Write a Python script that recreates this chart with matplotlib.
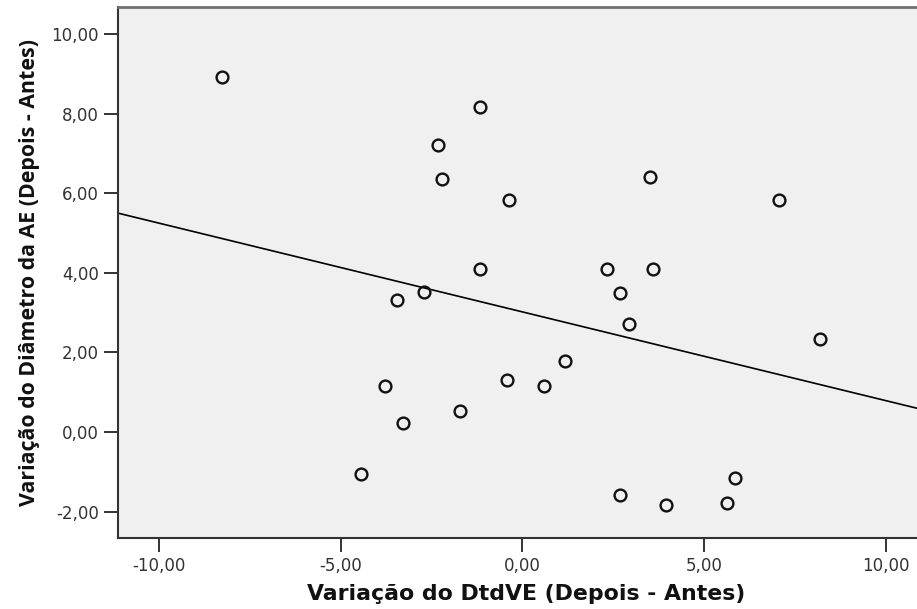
import numpy as np
import matplotlib.pyplot as plt

# Change in DtdVE (x) vs change in AE diameter (y), after - before
dtdve_change = [-8.27, -1.16, -2.31, -2.20, -0.37, 3.52, 7.07, -1.16, 2.34, 3.59,
                2.68, -3.44, -2.71, 2.93, 8.19, 1.18, -0.42, 0.60, -1.71, 2.69,
                3.95, 5.62, 5.85, -3.77, -3.28, -4.44]
ae_change = [8.92, 8.17, 7.22, 6.36, 5.84, 6.41, 5.84, 4.09, 4.09, 4.09,
             3.50, 3.32, 3.51, 2.71, 2.33, 1.78, 1.31, 1.16, 0.53, -1.57,
             -1.83, -1.77, -1.16, 1.16, 0.22, -1.06]

x_ticks = [-10, -5, 0, 5, 10]
y_ticks = [-2, 0, 2, 4, 6, 8, 10]

def fmt(v):
    return f"{v:.2f}".replace(".", ",")

fig = plt.figure(figsize=(9.17, 6.09), dpi=100)
ax = fig.add_axes([0.129, 0.1166, 0.871, 0.8714])
ax.set_facecolor("#f0f0f0")

x = np.array(dtdve_change)
y = np.array(ae_change)

xlim = (-11.12, 10.86)
ylim = (-2.66, 10.67)

# least squares fit line across the whole x range
slope, intercept = np.polyfit(x, y, 1)
xs = np.array(xlim)
ax.plot(xs, slope * xs + intercept, color="black", lw=1.2, zorder=2)

ax.plot(x, y, "o", ms=8.5, mfc="none", mec="#111111", mew=1.7, zorder=3)

ax.set_xlim(*xlim)
ax.set_ylim(*ylim)
ax.set_xticks(x_ticks)
ax.set_yticks(y_ticks)
ax.set_xticklabels([fmt(v) for v in x_ticks])
ax.set_yticklabels([fmt(v) for v in y_ticks])
ax.tick_params(direction="out", length=10, width=1.4, color="#333333",
               labelsize=12, labelcolor="#333333", pad=4)
for lab in ax.get_xticklabels() + ax.get_yticklabels():
    lab.set_family("DejaVu Sans")

for side in ["left", "bottom"]:
    ax.spines[side].set_color("#333333")
    ax.spines[side].set_linewidth(1.5)
ax.spines["top"].set_color("#707070")
ax.spines["top"].set_linewidth(2)
ax.spines["right"].set_visible(False)

ax.set_xlabel("Variação do DtdVE (Depois - Antes)", family="DejaVu Sans",
              fontweight="bold", fontsize=15.8, color="#111111", labelpad=6)
ax.xaxis.label.set_x(0.511)
ax.set_ylabel("Variação do Diâmetro da AE (Depois - Antes)", family="Open Sans",
              fontweight="bold", fontsize=15.4, color="#111111", labelpad=8)

fig.savefig("out.png", dpi=100, facecolor="white")
